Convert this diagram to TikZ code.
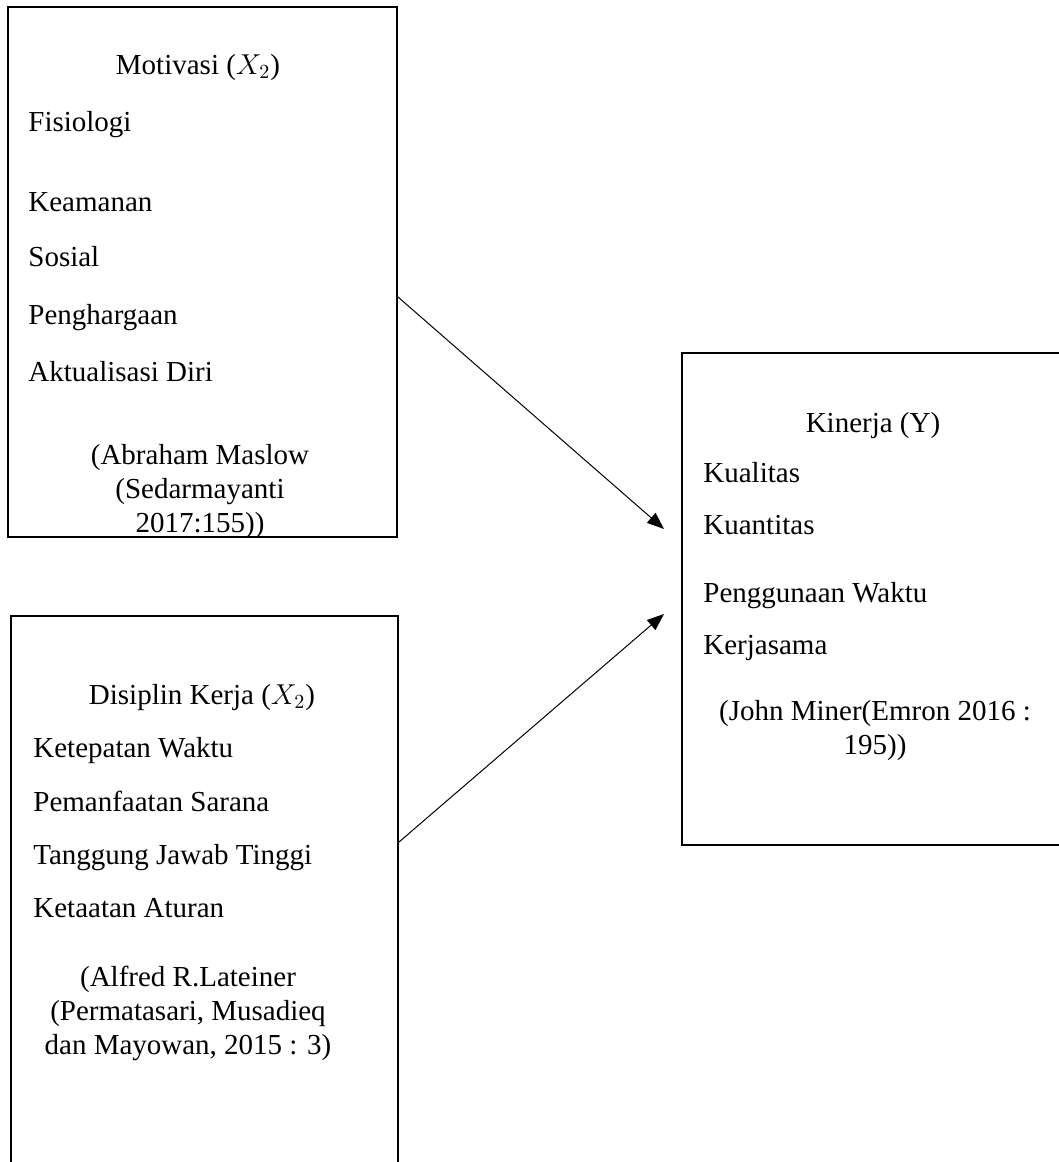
\documentclass[tikz,border=0pt]{standalone}
\usepackage{fontspec}
\setmainfont{Liberation Serif}
\usetikzlibrary{arrows.meta}

\begin{document}
\begin{tikzpicture}[x=0.5pt, y=-0.5pt, font=\fontsize{14.5}{17}\selectfont,
    kotak/.style={draw, line width=1pt, inner sep=0pt},
    butir/.style={anchor=west, inner sep=0pt, text height=0.68em, text depth=0.22em},
    judul/.style={inner sep=0pt, text height=0.68em, text depth=0.22em},
    sumber/.style={inner sep=0pt, align=center},
    panah/.style={line width=0.5pt, -{Triangle[length=8.5pt, width=6.5pt]}}]
    \clip (0,0) rectangle (1059,1162);

    % Boxes
    \node[kotak, minimum width=194.5pt, minimum height=265pt] (motivasi) at (202.5,272) {};
    \node[kotak, minimum width=193.5pt, minimum height=282pt] (disiplin) at (204.5,898) {};
    \node[kotak, minimum width=199pt, minimum height=246pt] (kinerja) at (881,599) {};

    % Titles
    \node[judul] (tmot) at (198,70) {Motivasi ($X_2$)};
    \node[judul] (tdis) at (202,700) {Disiplin Kerja ($X_2$)};
    \node[judul] (tkin) at (873,428) {Kinerja (Y)};

    % Indicators
    \foreach \y/\item [count=\i] in {
        127/Fisiologi,
        207/Keamanan,
        262/Sosial,
        320/Penghargaan,
        377/Aktualisasi Diri
    } {
        \node[butir] (m\i) at (28,\y) {\item};
    }
    \foreach \y/\item [count=\i] in {
        753/Ketepatan Waktu,
        807/Pemanfaatan Sarana,
        860/Tanggung Jawab Tinggi,
        913/Ketaatan Aturan
    } {
        \node[butir] (d\i) at (33,\y) {\item};
    }
    \foreach \y/\item [count=\i] in {
        478/Kualitas,
        530/Kuantitas,
        598/Penggunaan Waktu,
        650/Kerjasama
    } {
        \node[butir] (k\i) at (703,\y) {\item};
    }

    % Sources
    \node[sumber] (smot) at (200,492) {(Abraham Maslow\\(Sedarmayanti\\2017:155))};
    \node[sumber] (sdis) at (188,1013) {(Alfred R.Lateiner\\(Permatasari, Musadieq\\dan Mayowan, 2015 : 3)};
    \node[sumber] (skin) at (875,731) {(John Miner(Emron 2016 :\\195))};

    % Arrows
    \draw[panah] ([yshift=-12.5pt]motivasi.east) -- ([xshift=-8.5pt, yshift=35pt]kinerja.west);
    \draw[panah] ([yshift=28pt]disiplin.east) -- ([xshift=-8.5pt, yshift=-7.5pt]kinerja.west);
\end{tikzpicture}
\end{document}
